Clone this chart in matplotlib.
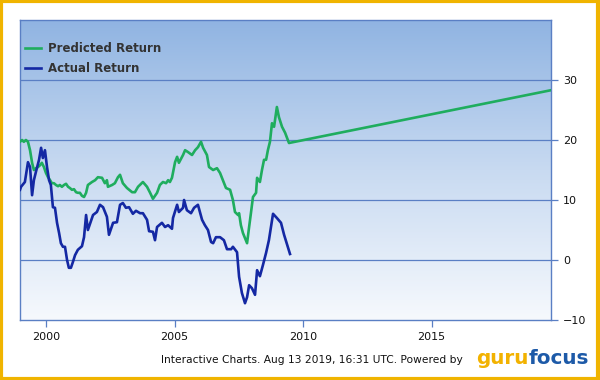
import matplotlib
matplotlib.use('Agg')
import matplotlib.pyplot as plt
import numpy as np
from matplotlib.colors import LinearSegmentedColormap
from matplotlib.patches import Rectangle

# Predicted Return (green)
pred_year = [1998.99, 1999.07, 1999.14, 1999.22, 1999.30, 1999.38, 1999.46, 1999.53, 1999.61, 1999.69,
             1999.77, 1999.84, 1999.92, 2000.00, 2000.08, 2000.16, 2000.23, 2000.31, 2000.39, 2000.47,
             2000.54, 2000.62, 2000.70, 2000.78, 2000.86, 2000.93, 2001.01, 2001.09, 2001.17, 2001.24,
             2001.32, 2001.40, 2001.48, 2001.56, 2001.63, 2001.79, 2001.91, 2002.02, 2002.18, 2002.29,
             2002.37, 2002.41, 2002.57, 2002.68, 2002.80, 2002.88, 2002.99, 2003.15, 2003.35, 2003.46,
             2003.58, 2003.77, 2003.93, 2004.05, 2004.16, 2004.32, 2004.43, 2004.55, 2004.67, 2004.75,
             2004.82, 2004.90, 2005.02, 2005.10, 2005.17, 2005.33, 2005.41, 2005.52, 2005.68, 2005.80,
             2005.91, 2006.03, 2006.11, 2006.26, 2006.34, 2006.50, 2006.65, 2006.77, 2006.88, 2007.00,
             2007.16, 2007.27, 2007.35, 2007.47, 2007.51, 2007.58, 2007.66, 2007.82, 2007.90, 2007.97,
             2008.05, 2008.17, 2008.21, 2008.32, 2008.40, 2008.48, 2008.56, 2008.63, 2008.71, 2008.79,
             2008.87, 2008.98, 2009.06, 2009.18, 2009.30, 2009.45, 2019.64]
pred_val = [19.7, 20.0, 19.7, 20.0, 19.7, 18.3, 16.2, 15.0, 15.3, 15.5,
            15.8, 16.2, 15.5, 14.5, 13.8, 13.3, 12.8, 12.8, 12.5, 12.3,
            12.5, 12.2, 12.5, 12.7, 12.2, 12.0, 11.7, 11.8, 11.3, 11.2,
            11.2, 10.7, 10.5, 11.2, 12.5, 13.0, 13.3, 13.8, 13.7, 12.8,
            13.3, 12.2, 12.5, 12.8, 13.8, 14.2, 12.8, 12.0, 11.3, 11.3,
            12.2, 13.0, 12.2, 11.2, 10.2, 11.2, 12.5, 13.0, 12.8, 13.3,
            13.0, 13.7, 16.3, 17.2, 16.2, 17.5, 18.3, 18.0, 17.5, 18.3,
            18.8, 19.7, 18.7, 17.5, 15.5, 15.0, 15.3, 14.5, 13.3, 12.0,
            11.7, 10.0, 8.0, 7.5, 7.8, 5.8, 4.5, 2.8, 5.5, 7.8,
            10.5, 11.2, 13.7, 13.0, 15.0, 16.7, 16.7, 18.3, 19.7, 22.8,
            22.2, 25.5, 23.8, 22.2, 21.2, 19.5, 28.3]

# Actual Return (blue)
act_year = [1998.99, 1999.03, 1999.18, 1999.30, 1999.38, 1999.46, 1999.53, 1999.61, 1999.73, 1999.81,
            1999.88, 1999.96, 2000.04, 2000.12, 2000.19, 2000.27, 2000.35, 2000.43, 2000.51, 2000.58,
            2000.66, 2000.74, 2000.82, 2000.89, 2000.97, 2001.05, 2001.13, 2001.24, 2001.40, 2001.48,
            2001.56, 2001.63, 2001.83, 2001.98, 2002.10, 2002.22, 2002.37, 2002.45, 2002.61, 2002.76,
            2002.88, 2002.99, 2003.11, 2003.23, 2003.38, 2003.50, 2003.66, 2003.77, 2003.93, 2004.01,
            2004.16, 2004.24, 2004.32, 2004.51, 2004.63, 2004.75, 2004.90, 2004.94, 2005.10, 2005.17,
            2005.33, 2005.37, 2005.48, 2005.64, 2005.76, 2005.91, 2006.07, 2006.18, 2006.30, 2006.42,
            2006.50, 2006.61, 2006.77, 2006.92, 2007.04, 2007.20, 2007.27, 2007.43, 2007.51, 2007.62,
            2007.74, 2007.82, 2007.90, 2008.01, 2008.13, 2008.21, 2008.32, 2008.44, 2008.56, 2008.67,
            2008.83, 2008.98, 2009.14, 2009.26, 2009.49]
act_val = [11.7, 12.2, 13.0, 16.3, 15.5, 10.8, 13.3, 14.7, 16.7, 18.7,
           17.0, 18.3, 15.5, 13.3, 12.5, 8.8, 8.7, 6.2, 4.5, 2.8,
           2.2, 2.2, 0.0, -1.3, -1.3, -0.3, 0.8, 1.7, 2.3, 3.8,
           7.5, 5.0, 7.5, 8.0, 9.2, 8.8, 7.2, 4.2, 6.2, 6.3,
           9.2, 9.5, 8.7, 8.8, 7.7, 8.2, 7.8, 7.8, 6.7, 4.8,
           4.7, 3.3, 5.5, 6.2, 5.5, 5.8, 5.2, 7.0, 9.2, 8.0,
           8.7, 10.0, 8.3, 7.8, 8.7, 9.2, 6.7, 5.8, 5.0, 3.0,
           2.8, 3.8, 3.8, 3.3, 1.8, 1.8, 2.2, 1.3, -2.8, -5.5,
           -7.2, -6.2, -4.2, -4.7, -5.8, -1.7, -2.7, -0.8, 1.2, 3.3,
           7.7, 7.0, 6.2, 4.2, 1.0]

x_ticks = [2000, 2005, 2010, 2015]
y_ticks = [-10, 0, 10, 20, 30]

green = '#1fad5e'
blue = '#1428a3'
grid_c = '#5a7fc4'

fig = plt.figure(figsize=(6, 3.8), dpi=100)
ax = fig.add_axes([20/600, 1-320/380, 531/600, 300/380])

# gradient background
bg = LinearSegmentedColormap.from_list('bg', ['#f6f9fd', '#c8daf1', '#90b4e2'])
grad = np.linspace(0, 1, 256).reshape(-1, 1)
ax.imshow(grad, aspect='auto', cmap=bg, origin='lower', extent=[0, 1, 0, 1],
          transform=ax.transAxes, zorder=0)

for v in [0, 10, 20, 30]:
    ax.axhline(v, color=grid_c, lw=0.9, zorder=1)

ax.plot(pred_year, pred_val, color=green, lw=1.9, zorder=3, label='Predicted Return')
ax.plot(act_year, act_val, color=blue, lw=1.9, zorder=3, label='Actual Return')

ax.set_xlim(1998.99, 2019.64)
ax.set_ylim(-10, 40)
ax.set_xticks(x_ticks)
ax.set_yticks(y_ticks)
ax.yaxis.tick_right()
ax.tick_params(axis='both', colors=grid_c, labelcolor='#111111', labelsize=8, length=5, width=0.9)
for s in ax.spines.values():
    s.set_color(grid_c)
    s.set_linewidth(1.0)

leg = ax.legend(loc='upper left', bbox_to_anchor=(-0.01, 0.962), frameon=False, handlelength=1.3,
                handletextpad=0.6, labelspacing=0.6, prop={'size': 8.5, 'weight': 'bold'})
for t in leg.get_texts():
    t.set_color('#333333')

fig.text(161/600, 1-360/380, 'Interactive Charts. Aug 13 2019, 16:31 UTC. Powered by',
         fontsize=7.7, color='#111111', va='center', ha='left')

# gurufocus logo as text, fitted to its width in the reference
logo_font = ['Liberation Sans Narrow', 'DejaVu Sans']
fig.canvas.draw()
r = fig.canvas.get_renderer()
t1 = fig.text(476/600, 1-358/380, 'guru', fontsize=20, fontweight='bold', color='#f2b200',
              family=logo_font, va='center', ha='left')
t2 = fig.text(0, 1-358/380, 'focus', fontsize=20, fontweight='bold', color='#1d5aa8',
              family=logo_font, va='center', ha='left')
w = t1.get_window_extent(r).width + t2.get_window_extent(r).width
fs = 20 * 113 / w
t1.set_fontsize(fs)
t2.set_fontsize(fs)
bb = t1.get_window_extent(r)
t2.set_x(bb.x1/600 + 0.001)

fig.patches.append(Rectangle((0.002, 0.003), 0.994, 0.994, transform=fig.transFigure,
                             fill=False, edgecolor='#f0b400', lw=3))

fig.savefig('out.png', dpi=100)
